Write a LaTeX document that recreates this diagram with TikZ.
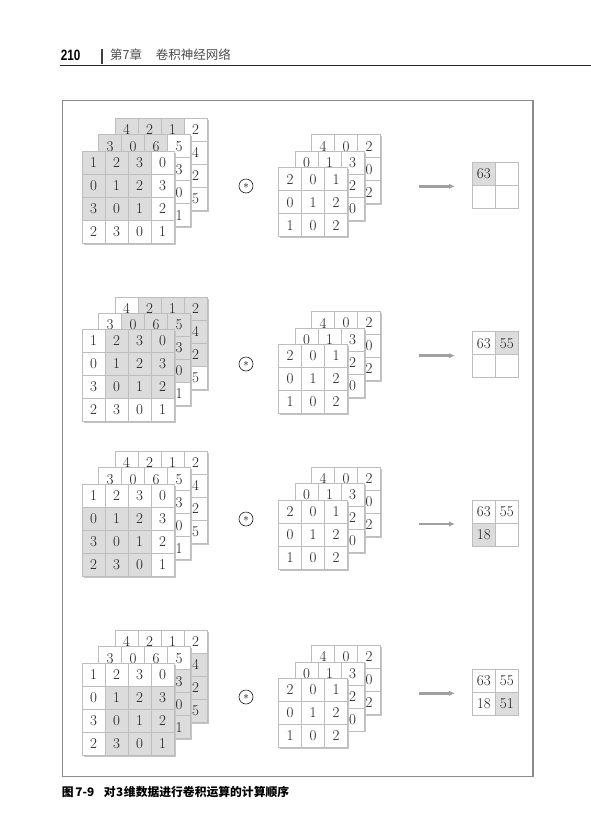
\documentclass[tikz,border=0pt]{standalone}
\usepackage{fontspec}
\newfontfamily\cjk{Noto Sans CJK SC}
\newfontfamily\hdfont{Liberation Sans}[FakeStretch=0.78]
\usetikzlibrary{arrows.meta}
\definecolor{cellgray}{HTML}{DCDCDC}
\definecolor{cellline}{HTML}{BDBDBD}
\definecolor{shadowc}{HTML}{C4C4C4}
\definecolor{framec}{HTML}{8C8C8C}
\definecolor{arrowc}{HTML}{A0A0A0}
\definecolor{numc}{HTML}{1E1E1E}
% #1 name, #2 x, #3 y, #4 n, #5 r0, #6 c0, #7 shade size, #8 values
\newcommand\mymat[8]{%
  \foreach \v [count=\i from 0] in {#8} {%
    \pgfmathtruncatemacro\r{int(\i/#4)}%
    \pgfmathtruncatemacro\c{\i-\r*#4}%
    \pgfmathtruncatemacro\s{(\r>=#5)&&(\r<#5+#7)&&(\c>=#6)&&(\c<#6+#7)}%
    \ifnum\s=1 \def\fc{cellgray}\else\def\fc{white}\fi
    \node[cell,fill=\fc] (#1-\r-\c) at ({#2+\c*23+11.5},{#3+\r*23+11.5}) {\v};
  }%
}
\newcommand\myshadow[3]{%
  \fill[shadowc] ({#1+1.6},{#2+1.6}) rectangle ++({#3*23},{#3*23});%
}
% #1 id, #2 input front top, #3 filter front top, #4 circle y, #5 output top, #6 r0, #7 c0
\newcommand\mypanel[7]{%
  \myshadow{115}{#2-32.6}{4}
  \mymat{#1ib}{115}{#2-32.6}{4}{#6}{#7}{3}{4,2,1,2,{},{},{},4,{},{},{},2,{},{},{},5}
  \myshadow{98.5}{#2-16.3}{4}
  \mymat{#1im}{98.5}{#2-16.3}{4}{#6}{#7}{3}{3,0,6,5,{},{},{},3,{},{},{},0,{},{},{},1}
  \myshadow{82}{#2}{4}
  \mymat{#1if}{82}{#2}{4}{#6}{#7}{3}{1,2,3,0,0,1,2,3,3,0,1,2,2,3,0,1}
  \myshadow{311.5}{#3-33}{3}
  \mymat{#1fb}{311.5}{#3-33}{3}{-9}{-9}{3}{4,0,2,{},{},0,{},{},2}
  \myshadow{295}{#3-16.5}{3}
  \mymat{#1fm}{295}{#3-16.5}{3}{-9}{-9}{3}{0,1,3,{},{},2,{},{},0}
  \myshadow{278.5}{#3}{3}
  \mymat{#1ff}{278.5}{#3}{3}{-9}{-9}{3}{2,0,1,0,1,2,1,0,2}
  \node[draw=numc,circle,line width=0.6,minimum size=14,inner sep=0pt] (#1op) at (246,#4) {\fontsize{11}{11}\selectfont$\ast$};
  \coordinate (#1a) at (419,#5+24);
  \coordinate (#1b) at (455,#5+24);
  \draw[arrowc,line width=2.8,-{Latex[length=6,width=5.5]}] (#1a) -- (#1b);
}
\begin{document}
\begin{tikzpicture}[x=1pt,y=-1pt,
  cell/.style={draw=cellline,line width=0.6,minimum size=23,inner sep=0pt,text=numc,font=\fontsize{15}{15}\selectfont}]
\useasboundingbox (0,0) rectangle (591,820);
\fill[white] (0,0) rectangle (591,820);
% header
\node[anchor=base west,inner sep=0pt] (pg) at (60.7,60.5) {\hdfont\bfseries\fontsize{15}{15}\selectfont 210};
\fill[black!75] (100.5,48.5) rectangle (103.3,63.5);
\node[anchor=base west,inner sep=0pt,text=black!70] (chap) at (110,59.5) {\cjk\fontsize{12.5}{13}\selectfont 第7章\hspace{1.1em}卷积神经网络};
\draw[black!85,line width=1] (60,65) -- (591,65);
% frame
\draw[framec,line width=1] (62,100.3) -- (533,100.3);
\draw[framec,line width=1] (62,100.3) -- (62,776) -- (533,776);
\draw[framec,line width=1.5] (533,99.8) -- (533,776.5);
% panels
\mypanel{p1}{151}{167.7}{186}{162.3}{0}{0}
\mypanel{p2}{329.5}{344.5}{364}{331.7}{0}{1}
\mypanel{p3}{484}{500}{519}{500}{1}{0}
\mypanel{p4}{663}{678.3}{697}{669.3}{1}{1}
% outputs
\mymat{p1o}{472.3}{162.3}{2}{0}{0}{1}{63,{},{},{}}
\mymat{p2o}{472.3}{331.7}{2}{0}{1}{1}{63,55,{},{}}
\mymat{p3o}{472.3}{500}{2}{1}{0}{1}{63,55,18,{}}
\mymat{p4o}{472.3}{669.3}{2}{1}{1}{1}{63,55,18,51}
% caption
\node[anchor=base west,inner sep=0pt] (cap) at (61.7,796) {\cjk\bfseries\fontsize{11.8}{13}\selectfont 图\hspace{0.15em}7-9\hspace{0.8em}对\hspace{0.05em}3\hspace{0.05em}维数据进行卷积运算的计算顺序};
\end{tikzpicture}
\end{document}
